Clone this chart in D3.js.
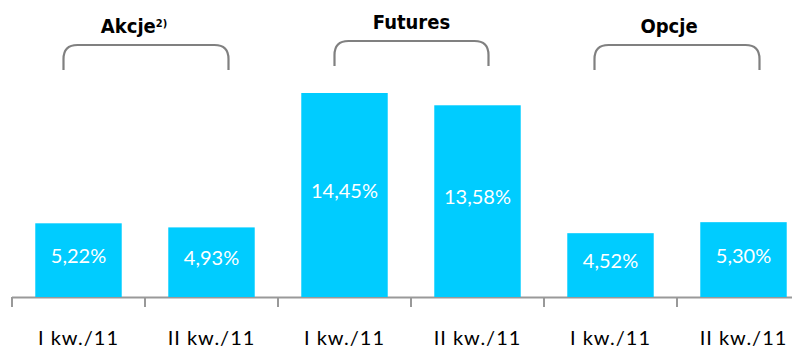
<!DOCTYPE html>
<html><head><meta charset="utf-8">
<script src="https://cdn.jsdelivr.net/npm/d3@7"></script>
<style>body{margin:0;background:#fff}svg{display:block}</style>
</head><body>
<svg id="c" width="792" height="348"></svg>
<script>
const categories = ["I kw./11","II kw./11","I kw./11","II kw./11","I kw./11","II kw./11"];
const values = [5.22, 4.93, 14.45, 13.58, 4.52, 5.30];
const valueLabels = ["5,22%","4,93%","14,45%","13,58%","4,52%","5,30%"];
const groups = ["Akcje","Futures","Opcje"];
const groupSup = ["2)","",""];

const svg = d3.select("#c");
const x0 = 12, step = 133;
const x = d3.scaleBand().domain(d3.range(categories.length)).range([x0, x0 + step*categories.length]).paddingInner(0.35).paddingOuter(0.175);
const y = d3.scaleLinear().domain([0, 14.45]).range([297, 93]);

// axis line
svg.append("line").attr("x1", x0).attr("x2", 792).attr("y1", 297.5).attr("y2", 297.5).attr("stroke", "#999").attr("stroke-width", 2);
d3.range(categories.length + 1).forEach(i => {
  const xx = x0 + i*step;
  svg.append("line").attr("x1", xx).attr("x2", xx).attr("y1", 297).attr("y2", 307).attr("stroke", "#999").attr("stroke-width", 2);
});

svg.selectAll("rect.bar").data(values).join("rect").attr("class","bar")
  .attr("x", (d,i)=>x(i)).attr("width", x.bandwidth())
  .attr("y", d=>y(d)).attr("height", d=>y(0)-y(d)).attr("fill", "#00CCFF");

svg.selectAll("text.val").data(values).join("text").attr("class","val")
  .attr("x", (d,i)=>x(i)+x.bandwidth()/2).attr("y", d=>(y(d)+y(0))/2 + 3)
  .attr("text-anchor","middle").attr("fill","#fff")
  .style("font-family","Lato").style("font-size","20px")
  .text((d,i)=>valueLabels[i]);

svg.selectAll("text.cat").data(categories).join("text").attr("class","cat")
  .attr("x", (d,i)=>x(i)+x.bandwidth()/2).attr("y", 345)
  .attr("text-anchor","middle").attr("fill","#000")
  .style("font-family","Lato").style("font-size","20px").style("letter-spacing","1px")
  .text(d=>d);

// brackets
const bTop = [45, 41, 45];
const bLeft = [15, 10, 16], bRight = [17, 11, 16];
const titleShift = [-12, 0, -8];
groups.forEach((g, k) => {
  const c0 = x(2*k) + x.bandwidth()/2, c1 = x(2*k+1) + x.bandwidth()/2;
  const xl = c0 - bLeft[k], xr = c1 + bRight[k];
  const t = bTop[k], b = t + 25, r = 14;
  const p = d3.path();
  p.moveTo(xl, b); p.lineTo(xl, t + r); p.quadraticCurveTo(xl, t, xl + r, t);
  p.lineTo(xr - r, t); p.quadraticCurveTo(xr, t, xr, t + r); p.lineTo(xr, b);
  svg.append("path").attr("d", p.toString()).attr("fill","none").attr("stroke","#808080").attr("stroke-width",2.2);
  const tx = svg.append("text").attr("x", (xl+xr)/2 + titleShift[k]).attr("y", t - 12).attr("text-anchor","middle")
    .style("font-family","DejaVu Sans Condensed, DejaVu Sans").style("font-weight","bold").style("font-size","20px").attr("fill","#000").text(g);
  if (groupSup[k]) tx.append("tspan").attr("dy", -6).style("font-size","11px").text(groupSup[k]);
});
</script>
</body></html>
